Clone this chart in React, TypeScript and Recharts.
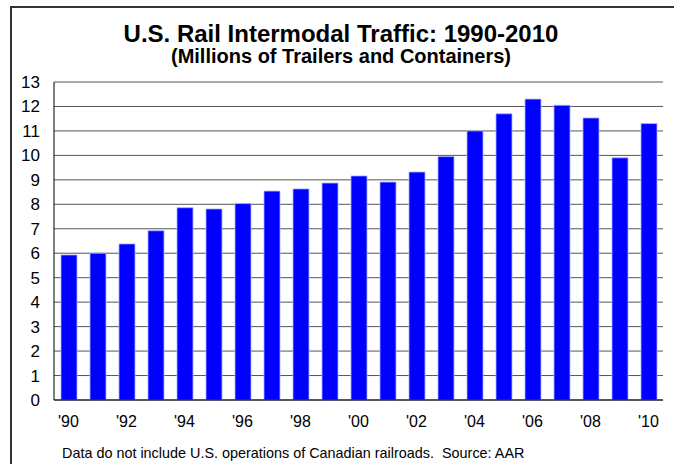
import React from "react";
import { BarChart, Bar, XAxis, YAxis, CartesianGrid } from "recharts";

const years = ["'90", "'91", "'92", "'93", "'94", "'95", "'96", "'97", "'98", "'99", "'00", "'01", "'02", "'03", "'04", "'05", "'06", "'07", "'08", "'09", "'10"];
const traffic = [5.93, 6.0, 6.38, 6.92, 7.86, 7.81, 8.03, 8.54, 8.63, 8.87, 9.16, 8.91, 9.32, 9.95, 11.0, 11.7, 12.3, 12.05, 11.53, 9.9, 11.3];
const yTicks = [0, 1, 2, 3, 4, 5, 6, 7, 8, 9, 10, 11, 12, 13];

const title = "U.S. Rail Intermodal Traffic: 1990-2010";
const subtitle = "(Millions of Trailers and Containers)";
const footnote = "Data do not include U.S. operations of Canadian railroads.  Source: AAR";

const data = years.map((y, i) => ({ year: y, value: traffic[i] }));

const FONT = "'Liberation Sans', Arial, sans-serif";

export default function App() {
  return (
    <div style={{ position: "absolute", left: 0, top: 0, width: 674, height: 464, background: "#fff", fontFamily: FONT, overflow: "hidden" }}>
      <div style={{ position: "absolute", left: 10, top: 6, width: 680, height: 480, borderTop: "2px solid #333", borderLeft: "2px solid #333" }} />
      <div style={{ position: "absolute", left: 4, top: 22, width: 674, textAlign: "center", fontSize: 24, lineHeight: "24px", fontWeight: "bold", color: "#000", whiteSpace: "pre" }}>{title}</div>
      <div style={{ position: "absolute", left: 4, top: 46, width: 674, textAlign: "center", fontSize: 20, lineHeight: "20px", fontWeight: "bold", color: "#000", whiteSpace: "pre" }}>{subtitle}</div>
      <div style={{ position: "absolute", left: 62, top: 446, fontSize: 14.4, lineHeight: "14px", color: "#000", whiteSpace: "pre" }}>{footnote}</div>
      <div style={{ position: "absolute", left: 0, top: 0 }}>
        <BarChart width={674} height={464} data={data} margin={{ top: 82, right: 11, bottom: 34, left: 10 }} barCategoryGap={0}>
          <CartesianGrid horizontal={true} vertical={false} stroke="#555" strokeWidth={1} />
          <XAxis
            dataKey="year"
            interval={1}
            axisLine={{ stroke: "#000", strokeWidth: 1 }}
            tickLine={false}
            height={30}
            tick={{ fill: "#000", fontSize: 16, fontFamily: FONT }}
            tickMargin={10}
          />
          <YAxis
            domain={[0, 13]}
            ticks={yTicks}
            interval={0}
            width={44}
            axisLine={{ stroke: "#000", strokeWidth: 1 }}
            tickLine={false}
            tick={{ fill: "#000", fontSize: 17, fontFamily: FONT }}
            tickMargin={8}
          />
          <YAxis yAxisId="r" orientation="right" width={0} tick={false} tickLine={false} axisLine={{ stroke: "#777", strokeWidth: 1.5 }} />
          <Bar dataKey="value" fill="#0000ff" stroke="#aab0ff" strokeWidth={0.8} barSize={16} isAnimationActive={false} />
        </BarChart>
      </div>
    </div>
  );
}
